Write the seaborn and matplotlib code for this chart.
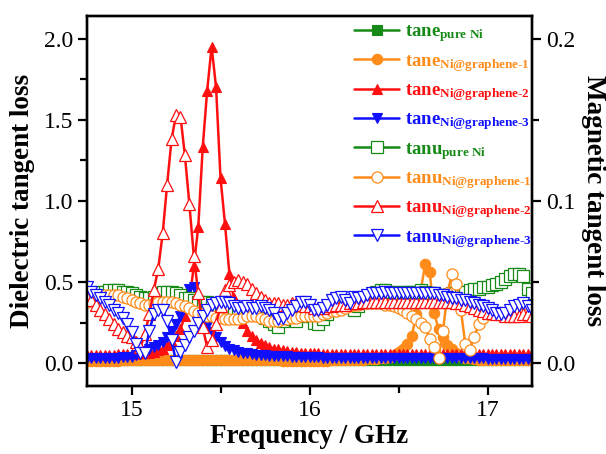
import numpy as np
import matplotlib
matplotlib.use("Agg")
import matplotlib.pyplot as plt
from matplotlib.ticker import MultipleLocator
import seaborn as sns

sns.set_style("ticks")
plt.rcParams['font.family'] = ['Liberation Serif', 'DejaVu Serif']
plt.rcParams['mathtext.fontset'] = 'custom'
plt.rcParams['mathtext.rm'] = 'Liberation Serif:bold'
plt.rcParams['mathtext.it'] = 'Liberation Serif:bold'
plt.rcParams['mathtext.bf'] = 'Liberation Serif:bold'
plt.rcParams.update({'axes.edgecolor': 'black', 'xtick.color': 'black',
                     'ytick.color': 'black', 'text.color': 'black',
                     'axes.labelcolor': 'black'})

# frequency grid (GHz), 0.025 GHz step
freq = np.linspace(14.75, 17.25, 101)

# dielectric tangent loss (left axis), filled markers
tane_pure = [0.018] * 101
tane_g1 = [
    0.015, 0.015, 0.015, 0.015, 0.015, 0.016, 0.016, 0.016, 0.017, 0.017,
    0.018, 0.020, 0.020, 0.022, 0.022, 0.022, 0.022, 0.022, 0.022, 0.022,
    0.022, 0.022, 0.022, 0.022, 0.022, 0.021, 0.021, 0.021, 0.020, 0.020,
    0.020, 0.020, 0.020, 0.019, 0.019, 0.019, 0.018, 0.018, 0.018, 0.018,
    0.018, 0.017, 0.017, 0.017, 0.016, 0.016, 0.016, 0.016, 0.015, 0.015,
    0.015, 0.015, 0.015, 0.016, 0.016, 0.017, 0.018, 0.018, 0.019, 0.020,
    0.020, 0.021, 0.022, 0.023, 0.025, 0.027, 0.030, 0.034, 0.040, 0.050,
    0.070, 0.090, 0.120, 0.170, 0.300, 0.450, 0.610, 0.560, 0.310, 0.210,
    0.160, 0.115, 0.085, 0.060, 0.045, 0.035, 0.030, 0.025, 0.022, 0.020,
    0.020, 0.020, 0.020, 0.020, 0.020, 0.020, 0.020, 0.020, 0.020, 0.020,
    0.020]
tane_g2 = [
    0.050, 0.050, 0.050, 0.050, 0.052, 0.052, 0.053, 0.054, 0.055, 0.055,
    0.056, 0.058, 0.060, 0.062, 0.065, 0.070, 0.080, 0.090, 0.110, 0.130,
    0.170, 0.210, 0.290, 0.380, 0.600, 0.840, 1.330, 1.680, 1.950, 1.700,
    1.140, 0.860, 0.550, 0.400, 0.320, 0.250, 0.200, 0.170, 0.145, 0.125,
    0.110, 0.100, 0.090, 0.085, 0.080, 0.075, 0.070, 0.068, 0.065, 0.063,
    0.062, 0.060, 0.060, 0.058, 0.058, 0.057, 0.057, 0.056, 0.056, 0.056,
    0.055, 0.055, 0.055, 0.055, 0.055, 0.055, 0.055, 0.055, 0.055, 0.055,
    0.055, 0.055, 0.055, 0.055, 0.055, 0.055, 0.055, 0.055, 0.055, 0.055,
    0.055, 0.055, 0.055, 0.055, 0.055, 0.055, 0.055, 0.055, 0.055, 0.055,
    0.055, 0.055, 0.055, 0.055, 0.055, 0.055, 0.055, 0.055, 0.055, 0.055,
    0.055]
tane_g3 = [
    0.030, 0.030, 0.030, 0.032, 0.032, 0.033, 0.034, 0.035, 0.036, 0.038,
    0.040, 0.050, 0.065, 0.075, 0.090, 0.100, 0.110, 0.130, 0.160, 0.200,
    0.240, 0.290, 0.360, 0.460, 0.470, 0.360, 0.280, 0.230, 0.190, 0.160,
    0.130, 0.105, 0.090, 0.080, 0.070, 0.065, 0.060, 0.056, 0.053, 0.050,
    0.048, 0.046, 0.045, 0.044, 0.043, 0.042, 0.041, 0.040, 0.040, 0.039,
    0.038, 0.037, 0.036, 0.035, 0.034, 0.033, 0.032, 0.031, 0.030, 0.030,
    0.030, 0.030, 0.030, 0.030, 0.030, 0.030, 0.030, 0.030, 0.030, 0.030,
    0.030, 0.030, 0.030, 0.030, 0.030, 0.030, 0.030, 0.030, 0.030, 0.030,
    0.029, 0.029, 0.029, 0.029, 0.029, 0.029, 0.029, 0.029, 0.029, 0.029,
    0.028, 0.028, 0.028, 0.028, 0.028, 0.028, 0.028, 0.028, 0.028, 0.028,
    0.028]

# magnetic tangent loss (right axis), hollow markers
tanu_pure = [
    0.041, 0.042, 0.043, 0.044, 0.044, 0.045, 0.045, 0.045, 0.044, 0.044,
    0.043, 0.042, 0.041, 0.040, 0.040, 0.041, 0.043, 0.044, 0.044, 0.044,
    0.043, 0.042, 0.040, 0.040, 0.039, 0.038, 0.038, 0.038, 0.037, 0.036,
    0.035, 0.034, 0.033, 0.032, 0.031, 0.030, 0.030, 0.031, 0.032, 0.030,
    0.028, 0.026, 0.024, 0.022, 0.026, 0.029, 0.027, 0.026, 0.029, 0.032,
    0.029, 0.025, 0.024, 0.027, 0.030, 0.033, 0.035, 0.036, 0.037, 0.035,
    0.033, 0.035, 0.038, 0.040, 0.042, 0.044, 0.045, 0.045, 0.044, 0.044,
    0.043, 0.044, 0.044, 0.044, 0.044, 0.045, 0.044, 0.043, 0.043, 0.042,
    0.042, 0.042, 0.043, 0.043, 0.044, 0.044, 0.045, 0.046, 0.046, 0.047,
    0.047, 0.048, 0.049, 0.050, 0.052, 0.054, 0.055, 0.055, 0.054, 0.046,
    0.043]
tanu_g1 = [
    0.038, 0.039, 0.040, 0.041, 0.042, 0.042, 0.042, 0.042, 0.041, 0.040,
    0.039, 0.038, 0.037, 0.036, 0.036, 0.037, 0.038, 0.038, 0.038, 0.038,
    0.037, 0.036, 0.035, 0.034, 0.032, 0.031, 0.030, 0.029, 0.029, 0.028,
    0.028, 0.027, 0.027, 0.027, 0.027, 0.028, 0.029, 0.029, 0.029, 0.028,
    0.027, 0.026, 0.026, 0.026, 0.027, 0.027, 0.028, 0.028, 0.029, 0.029,
    0.029, 0.029, 0.029, 0.030, 0.031, 0.032, 0.032, 0.033, 0.034, 0.035,
    0.036, 0.036, 0.037, 0.037, 0.037, 0.037, 0.037, 0.036, 0.036, 0.035,
    0.034, 0.033, 0.031, 0.029, 0.027, 0.025, 0.022, 0.015, 0.010, 0.003,
    0.020, 0.043, 0.055, 0.049, 0.033, 0.012, 0.008, 0.016, 0.024, 0.028,
    0.030, 0.031, 0.031, 0.031, 0.031, 0.031, 0.031, 0.031, 0.030, 0.030,
    0.029]
tanu_g2 = [
    0.041, 0.039, 0.036, 0.033, 0.030, 0.027, 0.024, 0.021, 0.019, 0.017,
    0.016, 0.013, 0.010, 0.018, 0.030, 0.045, 0.058, 0.080, 0.110, 0.138,
    0.153, 0.152, 0.128, 0.098, 0.066, 0.043, 0.022, 0.010, 0.014, 0.024,
    0.035, 0.045, 0.048, 0.050, 0.051, 0.050, 0.049, 0.046, 0.043, 0.041,
    0.039, 0.037, 0.037, 0.037, 0.036, 0.036, 0.037, 0.037, 0.036, 0.035,
    0.035, 0.034, 0.034, 0.034, 0.035, 0.035, 0.036, 0.036, 0.036, 0.037,
    0.037, 0.037, 0.038, 0.038, 0.038, 0.038, 0.038, 0.038, 0.038, 0.038,
    0.038, 0.038, 0.038, 0.038, 0.038, 0.038, 0.038, 0.038, 0.038, 0.038,
    0.038, 0.038, 0.038, 0.037, 0.037, 0.036, 0.035, 0.034, 0.033, 0.032,
    0.031, 0.031, 0.030, 0.030, 0.029, 0.029, 0.029, 0.029, 0.030, 0.030,
    0.029]
tanu_g3 = [
    0.047, 0.044, 0.042, 0.040, 0.038, 0.036, 0.033, 0.031, 0.028, 0.024,
    0.019, 0.012, 0.006, 0.006, 0.020, 0.030, 0.033, 0.033, 0.026, 0.014,
    0.001, 0.007, 0.011, 0.016, 0.020, 0.025, 0.029, 0.033, 0.036, 0.037,
    0.038, 0.038, 0.037, 0.035, 0.034, 0.034, 0.035, 0.034, 0.034, 0.035,
    0.034, 0.033, 0.031, 0.027, 0.028, 0.031, 0.033, 0.035, 0.038, 0.038,
    0.036, 0.033, 0.033, 0.034, 0.036, 0.039, 0.040, 0.041, 0.039, 0.037,
    0.041, 0.040, 0.041, 0.042, 0.043, 0.043, 0.043, 0.044, 0.043, 0.043,
    0.043, 0.043, 0.043, 0.043, 0.043, 0.043, 0.043, 0.043, 0.043, 0.042,
    0.042, 0.041, 0.040, 0.040, 0.039, 0.039, 0.038, 0.037, 0.036, 0.035,
    0.034, 0.033, 0.031, 0.030, 0.031, 0.033, 0.035, 0.036, 0.037, 0.035,
    0.033]

samples = ['pure Ni', 'Ni@graphene-1', 'Ni@graphene-2', 'Ni@graphene-3']
colors = ['#168a16', '#ff8c1a', '#ff1010', '#1010ff']
tane_list = [tane_pure, tane_g1, tane_g2, tane_g3]
tanu_list = [tanu_pure, tanu_g1, tanu_g2, tanu_g3]
markers = ['s', 'o', '^', 'v']

fig = plt.figure(figsize=(6.06, 4.54), dpi=100)
ax = fig.add_axes([0.1436, 0.150, 0.7343, 0.815])
ax2 = ax.twinx()

handles = []
labels = []
for name, c, m, y in zip(samples, colors, markers, tane_list):
    sns.lineplot(x=freq, y=y, ax=ax, color=c, marker=m, markersize=7.5,
                 markerfacecolor=c, markeredgecolor=c, markeredgewidth=0.8,
                 linewidth=1.8, sort=False, errorbar=None)
    handles.append(ax.lines[-1])
    labels.append(r'$\mathrm{tane}_{\text{%s}}$' % name)

for name, c, m, y in zip(samples, colors, markers, tanu_list):
    sns.lineplot(x=freq, y=y, ax=ax2, color=c, marker=m, markersize=8,
                 markerfacecolor='white', markeredgecolor=c, markeredgewidth=0.9,
                 linewidth=1.8, sort=False, errorbar=None)
    handles.append(ax2.lines[-1])
    labels.append(r'$\mathrm{tanu}_{\text{%s}}$' % name)

ax.set_xlim(14.75, 17.25)
ax.set_ylim(-0.14, 2.14)
ax2.set_ylim(-0.014, 0.214)

ax.xaxis.set_major_locator(MultipleLocator(1))
ax.xaxis.set_minor_locator(MultipleLocator(0.5))
ax.yaxis.set_major_locator(MultipleLocator(0.5))
ax.yaxis.set_minor_locator(MultipleLocator(0.25))
ax2.yaxis.set_major_locator(MultipleLocator(0.1))
ax2.yaxis.set_minor_locator(MultipleLocator(0.05))

for a in (ax, ax2):
    for s in a.spines.values():
        s.set_linewidth(1.7)
        s.set_color('black')
        s.set_visible(True)
    a.tick_params(which='major', length=6.5, width=1.6, labelsize=17,
                  direction='out', color='black', labelcolor='black')
    a.tick_params(which='minor', length=5, width=1.6, direction='out', color='black')
ax.tick_params(axis='both', which='both', top=False, right=False)
ax2.tick_params(axis='y', which='both', left=False, right=True)

ax.set_xlabel('Frequency / GHz', fontsize=19.5, fontweight='bold', labelpad=2)
ax.set_ylabel('Dielectric tangent loss', fontsize=19.5, fontweight='bold', labelpad=6)
ax2.set_ylabel('Magnetic tangent loss', fontsize=19.5, fontweight='bold',
               rotation=270, labelpad=22)

leg = ax2.legend(handles, labels, loc='upper left', bbox_to_anchor=(0.575, 1.01),
                 frameon=False, fontsize=13.5, handlelength=2.4, handletextpad=0.3,
                 labelspacing=0.45, borderaxespad=0.2)
for txt, c in zip(leg.get_texts(), colors * 2):
    txt.set_color(c)

fig.savefig('out.png', dpi=100)
